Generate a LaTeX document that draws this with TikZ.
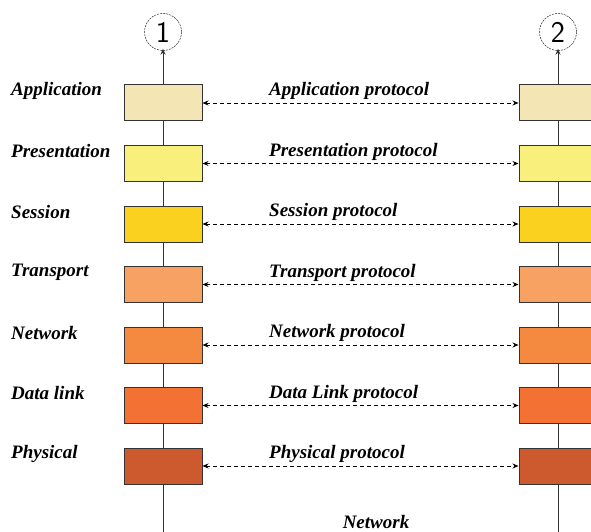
\documentclass[tikz,border=0pt]{standalone}
\usepackage{fontspec}
\setmainfont{Liberation Serif}
\usetikzlibrary{arrows.meta}
% layer colours
\definecolor{appcol}{HTML}{F3E5B4}
\definecolor{precol}{HTML}{F8EF7C}
\definecolor{sescol}{HTML}{FAD11F}
\definecolor{tracol}{HTML}{F7A263}
\definecolor{netcol}{HTML}{F38A40}
\definecolor{dlkcol}{HTML}{F27133}
\definecolor{phycol}{HTML}{CC5A2E}
\begin{document}
\begin{tikzpicture}[x=1pt,y=-1pt]
    % Define styles for nodes and edges
    \tikzstyle{layer}=[draw=black!80,line width=1pt,minimum width=78pt,minimum height=36pt,inner sep=0pt]
    \tikzstyle{lbl}=[inner sep=1pt,font=\fontsize{19}{22}\selectfont\bfseries\itshape]
    \tikzstyle{host}=[circle,draw,dash pattern=on 2pt off 1pt,minimum size=37pt,inner sep=0pt,font=\fontsize{30}{30}\selectfont\sffamily]
    \tikzstyle{stack}=[draw=black!80,line width=1pt]
    \tikzstyle{link}=[line width=0.8pt,dash pattern=on 4pt off 3pt,{Stealth[length=6pt,width=5pt]}-{Stealth[length=6pt,width=5pt]}]
    \useasboundingbox (0,0) rectangle (591,532);

    % Hosts on top
    \node[host] (H1) at (163,32) {1};
    \node[host] (H2) at (558,32) {2};

    % Layers of both hosts, with their protocols
    \foreach \i/\name/\col/\proto in {1/Application/appcol/Application protocol,
        2/Presentation/precol/Presentation protocol, 3/Session/sescol/Session protocol,
        4/Transport/tracol/Transport protocol, 5/Network/netcol/Network protocol,
        6/Data link/dlkcol/Data Link protocol, 7/Physical/phycol/Physical protocol}{
        \pgfmathsetmacro{\y}{103+(\i-1)*60.5}
        \node[layer,fill=\col] (L\i) at (163,\y) {};
        \node[layer,fill=\col] (R\i) at (558,\y) {};
        \node[lbl,anchor=west] (N\i) at (10,\y-12) {\name};
        \node[lbl,anchor=west] (P\i) at (268,\y-12) {\proto};
        \draw[link] (L\i.east) -- (R\i.west);
    }

    % Vertical lines through the stacks
    \draw[stack,-{Stealth[length=6pt,width=5pt]}] (L1.north) -- ([yshift=2pt]H1.south);
    \draw[stack,-{Stealth[length=6pt,width=5pt]}] (R1.north) -- ([yshift=2pt]H2.south);
    \foreach \i in {1,...,6}{
        \pgfmathtruncatemacro{\j}{\i + 1}
        \draw[stack] (L\i.south) -- (L\j.north);
        \draw[stack] (R\i.south) -- (R\j.north);
    }
    \coordinate (B1) at (163,532);
    \coordinate (B2) at (558,532);
    \draw[stack] (L7.south) -- (B1);
    \draw[stack] (R7.south) -- (B2);

    % Physical medium
    \node[lbl] (net) at (376,522) {Network};
\end{tikzpicture}
\end{document}
